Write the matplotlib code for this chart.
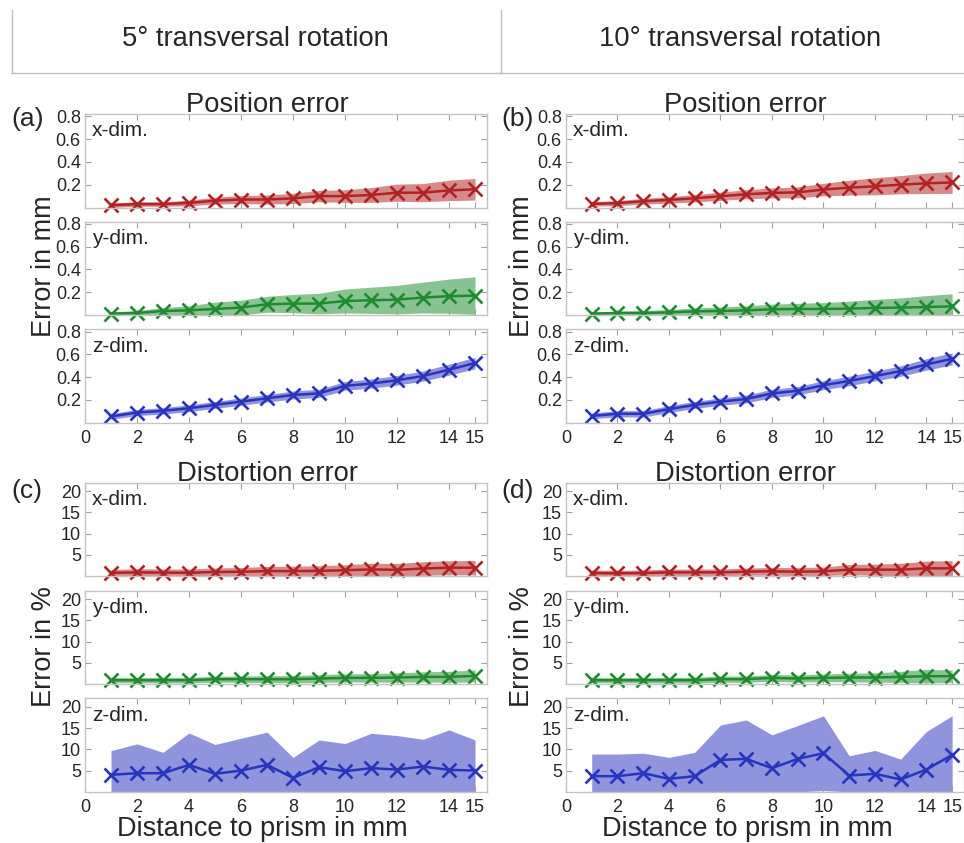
import matplotlib

matplotlib.use("Agg")
import matplotlib.pyplot as plt
import numpy as np

plt.rcParams["font.family"] = ["Liberation Sans", "DejaVu Sans"]

W, H = 964, 843

# distance to prism (mm)
dist = [1, 2, 3, 4, 5, 6, 7, 8, 9, 10, 11, 12, 13, 14, 15]
xticks = [0, 2, 4, 6, 8, 10, 12, 14, 15]

# position error in mm, 5 deg rotation (a)
pos5_x = [0.02, 0.03, 0.03, 0.04, 0.06, 0.07, 0.07, 0.08, 0.10, 0.10, 0.11, 0.13, 0.13, 0.15, 0.16]
pos5_x_sd = [0.02, 0.02, 0.02, 0.025, 0.03, 0.035, 0.04, 0.045, 0.05, 0.055, 0.065, 0.075, 0.08, 0.09, 0.095]
pos5_y = [0.012, 0.018, 0.035, 0.041, 0.053, 0.065, 0.094, 0.10, 0.10, 0.123, 0.129, 0.135, 0.153, 0.165, 0.170]
pos5_y_sd = [0.015, 0.02, 0.03, 0.04, 0.06, 0.065, 0.07, 0.08, 0.09, 0.105, 0.115, 0.125, 0.135, 0.15, 0.165]
pos5_z = [0.056, 0.09, 0.105, 0.128, 0.157, 0.186, 0.215, 0.244, 0.258, 0.324, 0.344, 0.373, 0.41, 0.466, 0.524]
pos5_z_sd = [0.025, 0.027, 0.028, 0.03, 0.03, 0.032, 0.033, 0.035, 0.036, 0.038, 0.04, 0.042, 0.045, 0.048, 0.05]

# position error in mm, 10 deg rotation (b)
pos10_x = [0.032, 0.038, 0.055, 0.067, 0.081, 0.099, 0.116, 0.128, 0.133, 0.157, 0.174, 0.186, 0.200, 0.212, 0.220]
pos10_x_sd = [0.02, 0.022, 0.025, 0.028, 0.032, 0.036, 0.04, 0.044, 0.048, 0.055, 0.065, 0.075, 0.08, 0.09, 0.096]
pos10_y = [0.012, 0.018, 0.018, 0.023, 0.032, 0.035, 0.041, 0.05, 0.053, 0.053, 0.056, 0.062, 0.065, 0.07, 0.076]
pos10_y_sd = [0.01, 0.015, 0.02, 0.025, 0.03, 0.035, 0.04, 0.045, 0.05, 0.055, 0.065, 0.075, 0.085, 0.1, 0.11]
pos10_z = [0.061, 0.079, 0.079, 0.12, 0.157, 0.186, 0.209, 0.258, 0.281, 0.33, 0.367, 0.41, 0.454, 0.512, 0.561]
pos10_z_sd = [0.025, 0.027, 0.028, 0.03, 0.031, 0.032, 0.034, 0.036, 0.037, 0.039, 0.041, 0.043, 0.046, 0.05, 0.053]

# distortion error in %, 5 deg rotation (c)
dis5_x = [0.8, 0.9, 0.85, 0.8, 1.0, 1.05, 1.2, 1.2, 1.25, 1.4, 1.6, 1.5, 1.8, 2.0, 2.0]
dis5_x_sd = [0.8, 0.85, 0.85, 0.9, 0.95, 1.0, 1.1, 1.15, 1.2, 1.3, 1.45, 1.5, 1.6, 1.65, 1.7]
dis5_y = [0.94, 0.94, 0.94, 0.94, 1.18, 1.18, 1.18, 1.18, 1.33, 1.49, 1.49, 1.57, 1.72, 1.72, 1.96]
dis5_y_sd = [0.6, 0.6, 0.65, 0.65, 0.7, 0.75, 0.8, 0.85, 0.9, 0.95, 1.0, 1.1, 1.2, 1.3, 1.4]
dis5_z = [3.99, 4.38, 4.38, 6.34, 4.23, 5.0, 6.34, 3.29, 5.79, 4.85, 5.56, 5.24, 5.95, 5.16, 5.0]
dis5_z_sd = [5.7, 6.9, 4.9, 7.5, 6.9, 7.6, 7.7, 4.8, 6.4, 6.5, 8.2, 8.0, 6.4, 9.4, 7.2]

# distortion error in %, 10 deg rotation (d)
dis10_x = [0.75, 0.68, 0.75, 0.91, 0.91, 0.91, 1.07, 1.15, 1.07, 1.15, 1.54, 1.54, 1.54, 1.86, 1.86]
dis10_x_sd = [0.7, 0.7, 0.72, 0.75, 0.78, 0.8, 0.85, 0.9, 0.95, 1.0, 1.2, 1.3, 1.5, 1.7, 1.8]
dis10_y = [0.94, 0.94, 0.94, 0.94, 0.94, 1.18, 1.18, 1.49, 1.33, 1.49, 1.57, 1.57, 1.72, 1.88, 1.88]
dis10_y_sd = [0.6, 0.6, 0.62, 0.65, 0.7, 0.72, 0.75, 0.8, 0.85, 0.9, 1.0, 1.1, 1.3, 1.6, 1.45]
dis10_z = [3.68, 3.68, 4.38, 3.05, 3.68, 7.51, 7.75, 5.56, 7.75, 9.08, 3.83, 4.23, 2.9, 5.24, 8.69]
dis10_z_sd = [5.2, 5.2, 4.7, 5.05, 5.6, 8.2, 9.15, 7.85, 7.85, 8.8, 4.65, 5.5, 4.8, 8.95, 9.2]

dims = ["x-dim.", "y-dim.", "z-dim."]
COLORS = ["#B22222", "#1E8C2E", "#2833BE"]
GRID = "#C4C4C4"
TXT = "#262626"


def fx(px):
    return px / W


def fy(py):
    return 1 - py / H


def draw_group(fig, left, right, tops, ylim, yticks, series, show_x=True):
    axes = []
    for i, (top, (mean, sd)) in enumerate(zip(tops, series)):
        ax = fig.add_axes([fx(left), fy(top + 93.5), fx(right - left), 93.5 / H])
        mean = np.array(mean)
        sd = np.array(sd)
        lo = np.clip(mean - sd, 0, None)
        ax.fill_between(dist, lo, mean + sd, color=COLORS[i], alpha=0.52, lw=0)
        ax.plot(dist, mean, color=COLORS[i], lw=1.8, marker="x", ms=10.5, mew=1.9, clip_on=False)
        ax.set_xlim(0, 15.46)
        ax.set_ylim(*ylim)
        ax.set_yticks(yticks)
        ax.set_xticks(xticks)
        ax.tick_params(direction="in", top=True, right=True, length=4, color="#A0A0A0",
                       labelsize=13, labelcolor=TXT, pad=3)
        ax.tick_params(axis="x", pad=5)
        if not (show_x and i == 2):
            ax.set_xticklabels([])
        for s in ax.spines.values():
            s.set_color(GRID)
            s.set_linewidth(1.0)
        ax.text(0.018, 0.92, dims[i], transform=ax.transAxes, ha="left", va="top",
                fontsize=15, color=TXT)
        axes.append(ax)
    return axes


fig = plt.figure(figsize=(W / 100, H / 100), dpi=100)

# header box
for xs, ys in [([12, 12], [10, 73]), ([501, 501], [10, 73]), ([12, 964], [73, 73])]:
    fig.add_artist(plt.Line2D([fx(x) for x in xs], [fy(y) for y in ys], color="#BDBDBD", lw=1.0))
fig.text(fx(255), fy(39), "5° transversal rotation", ha="center", va="center", fontsize=19.7, color=TXT)
fig.text(fx(740), fy(39), "10° transversal rotation", ha="center", va="center", fontsize=19.7, color=TXT)

pos_tops = [114, 221.5, 329.3]
dis_tops = [482.7, 590.7, 698.3]

draw_group(fig, 85, 487, pos_tops, (0, 0.82), [0.2, 0.4, 0.6, 0.8],
           [(pos5_x, pos5_x_sd), (pos5_y, pos5_y_sd), (pos5_z, pos5_z_sd)])
draw_group(fig, 566, 964, pos_tops, (0, 0.82), [0.2, 0.4, 0.6, 0.8],
           [(pos10_x, pos10_x_sd), (pos10_y, pos10_y_sd), (pos10_z, pos10_z_sd)])
draw_group(fig, 85, 487, dis_tops, (0, 22), [5, 10, 15, 20],
           [(dis5_x, dis5_x_sd), (dis5_y, dis5_y_sd), (dis5_z, dis5_z_sd)])
draw_group(fig, 566, 964, dis_tops, (0, 22), [5, 10, 15, 20],
           [(dis10_x, dis10_x_sd), (dis10_y, dis10_y_sd), (dis10_z, dis10_z_sd)])

# titles and panel letters
fig.text(fx(267), fy(112), "Position error", ha="center", va="baseline", fontsize=19.7, color=TXT)
fig.text(fx(745), fy(112), "Position error", ha="center", va="baseline", fontsize=19.7, color=TXT)
fig.text(fx(267), fy(481), "Distortion error", ha="center", va="baseline", fontsize=19.7, color=TXT)
fig.text(fx(745), fy(481), "Distortion error", ha="center", va="baseline", fontsize=19.7, color=TXT)
for lab, x, y in [("(a)", 11, 119), ("(b)", 501, 119), ("(c)", 11, 491), ("(d)", 501, 491)]:
    fig.text(fx(x), fy(y), lab, ha="left", va="center", fontsize=19, color=TXT)

# axis labels
for x in (44, 522):
    fig.text(fx(x), fy(266), "Error in mm", rotation=90, ha="center", va="center", fontsize=19.5, color=TXT)
    fig.text(fx(x), fy(647), "Error in %", rotation=90, ha="center", va="center", fontsize=19.5, color=TXT)
fig.text(fx(262), fy(836), "Distance to prism in mm", ha="center", va="baseline", fontsize=19.5, color=TXT)
fig.text(fx(747), fy(836), "Distance to prism in mm", ha="center", va="baseline", fontsize=19.5, color=TXT)

fig.savefig("out.png", dpi=100, facecolor="white")
